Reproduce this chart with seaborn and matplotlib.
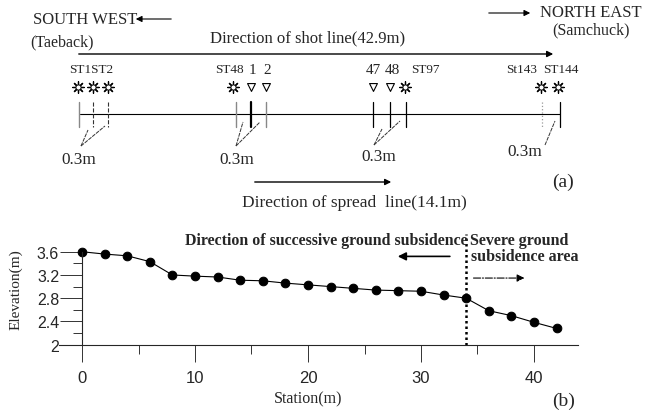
import numpy as np
import pandas as pd
import matplotlib
matplotlib.use("Agg")
import matplotlib.pyplot as plt
import seaborn as sns

# ---------------- data ----------------
station = [0, 2, 4, 6, 8, 10, 12, 14, 16, 18, 20, 22, 24, 26, 28, 30, 32, 34, 36, 38, 40, 42]
elevation = [3.60, 3.56, 3.53, 3.43, 3.20, 3.18, 3.165, 3.11, 3.10, 3.06, 3.03, 3.00,
             2.97, 2.94, 2.93, 2.92, 2.855, 2.80, 2.585, 2.50, 2.385, 2.28]
x_ticks = [0, 10, 20, 30, 40]
x_minor = [5, 15, 25, 35]
y_ticks = [2, 2.4, 2.8, 3.2, 3.6]
y_tick_labels = ["2", "2.4", "2.8", "3.2", "3.6"]
y_minor = [2.2, 2.6, 3.0, 3.4]
boundary_station = 34

# schematic (a): positions along the drawn line (schematic units)
tick_pos = [79, 93, 108, 236, 251, 266, 373, 390, 406, 541.7, 560]
tick_col = ["#888888", "#333333", "#333333", "#888888", "black", "#888888",
            "black", "black", "black", "#999999", "black"]
tick_ls = ["-", "--", "--", "-", "-", "-", "-", "-", "-", ":", "-"]
tick_lw = [1.0, 0.8, 0.8, 1.0, 1.6, 1.0, 0.9, 0.9, 0.9, 0.9, 0.9]
sun_pos = [78, 93, 108, 233, 405, 541, 558]
tri_pos = [251, 266, 373, 390]
st_labels = ["ST1ST2", "ST48", "1", "2", "47", "48", "ST97", "St143", "ST144"]
st_label_pos = [91.5, 229, 252, 267, 373, 392, 425, 522, 561]
st_label_size = [9.5, 9.5, 11, 11, 11, 11, 9.5, 9.5, 9.5]

sns.set_style("ticks")
plt.rcParams["font.family"] = ["Liberation Serif", "DejaVu Serif"]

W, H = 646, 414
fig = plt.figure(figsize=(W / 100, H / 100), dpi=100)

# ---------------- (b) elevation profile ----------------
xlim = (-2.0, 43.9)
ylim = (2.0, 3.95)
px_per_x = 11.3
px_per_y = 58.1
left_px = 82 - (0 - xlim[0]) * px_per_x
right_px = 82 + xlim[1] * px_per_x
bottom_px = 345.7
top_px = bottom_px - (ylim[1] - ylim[0]) * px_per_y
ax = fig.add_axes([left_px / W, (H - bottom_px) / H,
                   (right_px - left_px) / W, (bottom_px - top_px) / H])
ax.patch.set_alpha(0)

df = pd.DataFrame({"Station": station, "Elevation": elevation})
sns.lineplot(data=df, x="Station", y="Elevation", ax=ax, color="black",
             linewidth=0.8, marker="o", markersize=6.2, markeredgecolor="black",
             markerfacecolor="black")
ax.set_xlim(*xlim)
ax.set_ylim(*ylim)
for s in ["top", "right"]:
    ax.spines[s].set_visible(False)
ax.spines["left"].set_position(("data", 0))
ax.spines["left"].set_bounds(2, 3.6)
ax.spines["left"].set_linewidth(0.8)
ax.spines["bottom"].set_linewidth(0.8)
ax.set_xticks(x_ticks)
ax.set_xticks(x_minor, minor=True)
ax.set_yticks(y_ticks)
ax.set_yticklabels(y_tick_labels)
ax.set_yticks(y_minor, minor=True)
ax.tick_params(axis="x", which="major", length=12, width=0.7, pad=6, labelsize=12,
               color="#333333")
ax.tick_params(axis="x", which="minor", length=6.5, width=0.7, color="#333333")
ax.tick_params(axis="y", which="major", length=15.5, width=0.7, pad=1, labelsize=11.5,
               color="#333333")
ax.tick_params(axis="y", which="minor", length=6.3, width=0.7, color="#333333")
for lab in ax.get_xticklabels() + ax.get_yticklabels():
    lab.set_family(["Liberation Sans", "DejaVu Sans"])
ax.set_xlabel("")
ax.set_ylabel("")

ax.vlines(boundary_station, 2, 3.9, colors="black", linestyles=(0, (1, 1.2)), linewidth=1.8)
ax.text(21.6, 3.81, "Direction of successive ground subsidence", ha="center", va="center",
        fontsize=11.4, fontweight="bold")
ax.text(34.3, 3.81, "Severe ground", ha="left", va="center", fontsize=11.5, fontweight="bold")
ax.text(34.4, 3.52, "subsidence area", ha="left", va="center", fontsize=11.5, fontweight="bold")
ax.annotate("", xy=(27.7, 3.52), xytext=(32.8, 3.52),
            arrowprops=dict(arrowstyle="-|>", color="black", lw=1.2, mutation_scale=12))
ax.annotate("", xy=(39.4, 3.147), xytext=(34.4, 3.147),
            arrowprops=dict(arrowstyle="-|>", color="black", lw=0.8, ls="-.",
                            mutation_scale=11))

# ---------------- overlay (a) schematic, pixel units ----------------
ov = fig.add_axes([0, 0, 1, 1], zorder=-1)
ov.set_xlim(0, W)
ov.set_ylim(H, 0)
ov.axis("off")

ov.text(33, 20, "SOUTH WEST", ha="left", va="center", fontsize=12)
ov.annotate("", xy=(133, 20), xytext=(174, 20),
            arrowprops=dict(arrowstyle="-|>", color="black", lw=0.8, mutation_scale=9))
ov.text(30, 42, "(Taeback)", ha="left", va="center", fontsize=11.5)
ov.text(307.5, 38, "Direction of shot line(42.9m)", ha="center", va="center", fontsize=12)
ov.annotate("", xy=(556, 55), xytext=(76, 55),
            arrowprops=dict(arrowstyle="-|>", color="black", lw=1.0, mutation_scale=9))
ov.annotate("", xy=(533, 14), xytext=(486, 14),
            arrowprops=dict(arrowstyle="-|>", color="black", lw=0.8, mutation_scale=9))
ov.text(540, 13, "NORTH EAST", ha="left", va="center", fontsize=12)
ov.text(552, 30, "(Samchuck)", ha="left", va="center", fontsize=11.5)

# baseline and tick marks
ov.plot([80, 560], [115, 115], color="black", lw=0.8)
for xp, c, ls, lw in zip(tick_pos, tick_col, tick_ls, tick_lw):
    ov.plot([xp, xp], [103, 128], color=c, ls=ls, lw=lw)

# symbols
sun_df = pd.DataFrame({"x": sun_pos, "y": [87.5] * len(sun_pos)})
tri_df = pd.DataFrame({"x": tri_pos, "y": [88] * len(tri_pos)})
sns.scatterplot(data=sun_df, x="x", y="y", ax=ov, marker=(8, 2, 0), s=70,
                color="black", linewidth=0.9, legend=False)
sns.scatterplot(data=sun_df, x="x", y="y", ax=ov, marker="o", s=14,
                facecolor="white", edgecolor="black", linewidth=0.7, legend=False)
sns.scatterplot(data=tri_df, x="x", y="y", ax=ov, marker="v", s=32,
                facecolor="white", edgecolor="black", linewidth=0.8, legend=False)
ov.set_xlim(0, W)
ov.set_ylim(H, 0)
ov.set_xlabel("")
ov.set_ylabel("")

for lab, xp, fs in zip(st_labels, st_label_pos, st_label_size):
    ov.text(xp, 70, lab, ha="center", va="center", fontsize=fs)

# 0.3 m leader lines
leaders = [((81, 147), [(88, 131), (105, 127)]),
           ((236, 147), [(243, 123), (260, 123)]),
           ((374, 146), [(382, 130), (400, 122)]),
           ((545, 146), [(555, 122)])]
for (ax0, ay0), ends in leaders:
    for ex, ey in ends:
        ov.plot([ax0, ex], [ay0, ey], color="#333333", lw=0.7, ls=(0, (4, 1)))
for xp, yp in [(79, 160), (237, 160), (379, 157), (525, 152)]:
    ov.text(xp, yp, "0.3m", ha="center", va="center", fontsize=12.4)

ov.annotate("", xy=(394, 183), xytext=(252, 183),
            arrowprops=dict(arrowstyle="-|>", color="black", lw=1.0, mutation_scale=9))
ov.text(242, 203, "Direction of spread  line(14.1m)", ha="left", va="center", fontsize=12.5)
ov.text(563, 182, "(a)", ha="center", va="center", fontsize=14)

ov.text(308, 399, "Station(m)", ha="center", va="center", fontsize=11.5)
ov.text(15.5, 290, "Elevation(m)", ha="center", va="center", fontsize=11, rotation=90)
ov.text(564, 401, "(b)", ha="center", va="center", fontsize=14)

fig.savefig("out.png", dpi=100)
